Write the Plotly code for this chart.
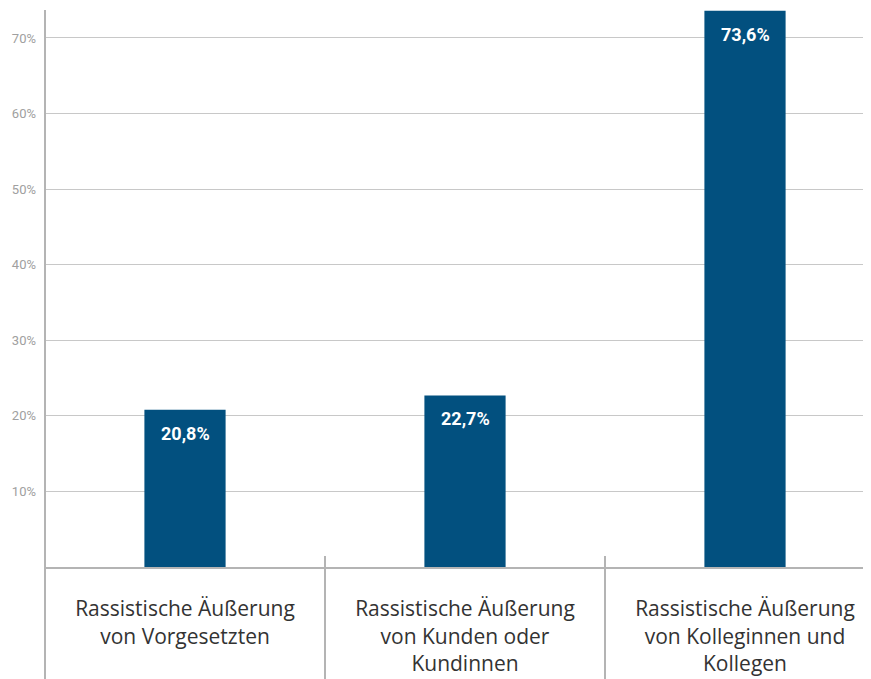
import plotly.graph_objects as go

categories = [
    "Rassistische Äußerung<br>von Vorgesetzten",
    "Rassistische Äußerung<br>von Kunden oder<br>Kundinnen",
    "Rassistische Äußerung<br>von Kolleginnen und<br>Kollegen",
]
values = [20.8, 22.7, 73.6]
value_labels = ["20,8%", "22,7%", "73,6%"]
y_ticks = [10, 20, 30, 40, 50, 60, 70]
y_tick_labels = ["10%", "20%", "30%", "40%", "50%", "60%", "70%"]

BAR = "#02507F"
GRID = "#c8c8c8"
AXIS = "#b4b4b4"

x_idx = list(range(len(categories)))

# page body has an 8px default margin -> figure is 8px smaller than window
W, H = 863, 671
MT, MB, ML = 2, 112, 37

fig = go.Figure(go.Bar(
    x=x_idx, y=values, marker=dict(color=BAR, line=dict(width=0)),
    width=0.29, hoverinfo="skip",
))

for xi, v, lab in zip(x_idx, values, value_labels):
    fig.add_annotation(x=xi, y=v, xref="x", yref="y", text="<b>" + lab + "</b>",
                       showarrow=False, yanchor="top", yshift=-11,
                       font=dict(family="Roboto", size=18, color="white"))

plot_h = H - MT - MB
bottom = -MB / plot_h
for xs in [0.5, 1.5]:
    fig.add_shape(type="line", xref="x", yref="paper", x0=xs, x1=xs,
                  y0=11 / plot_h, y1=bottom, line=dict(color=AXIS, width=2))
fig.add_shape(type="line", xref="paper", yref="paper", x0=0, x1=0,
              y0=bottom, y1=1, line=dict(color=AXIS, width=2))

fig.update_layout(
    width=W, height=H,
    margin=dict(l=ML, r=0, t=MT, b=MB),
    paper_bgcolor="white", plot_bgcolor="white",
    showlegend=False,
    font=dict(family="Roboto"),
    xaxis=dict(
        range=[-0.5, 2.45], tickmode="array", tickvals=x_idx, ticktext=categories,
        showgrid=False, zeroline=False, showline=True, linecolor=AXIS, linewidth=2,
        ticks="", tickfont=dict(family="Open Sans", size=21, color="#333333"),
        ticklabelstandoff=22, fixedrange=True,
    ),
    yaxis=dict(
        range=[0, 73.7], tickmode="array", tickvals=y_ticks, ticktext=y_tick_labels,
        showgrid=True, gridcolor=GRID, gridwidth=1, zeroline=False, showline=False,
        ticks="", tickfont=dict(family="Roboto", size=13, color="#a0a0a0"),
        ticklabelstandoff=8, fixedrange=True,
    ),
)

fig.write_html("out.html")
